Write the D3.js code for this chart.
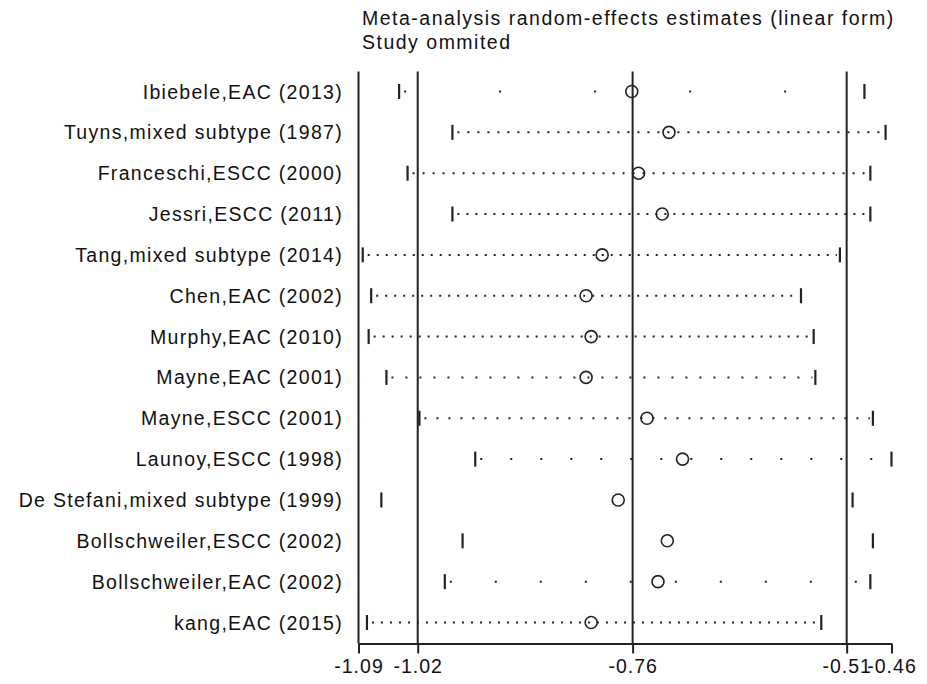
<!DOCTYPE html>
<html lang="en">
<head>
<meta charset="UTF-8">
<title>Study omitted - random-effects estimates</title>
<style>
    body { margin: 0; background: #fff; }
    svg { display: block; }
    text { font-family: Arial, "Liberation Sans", sans-serif; fill: #111; }
    .grid { stroke: #222; stroke-width: 2px; }
    .ci { fill: none; stroke: #222; stroke-width: 2px; stroke-linecap: butt; }
    .cap { stroke: #222; stroke-width: 2.2px; }
    .est { fill: none; stroke: #222; stroke-width: 1.6px; }
</style>
</head>
<body>
<script src="https://d3js.org/d3.v7.min.js"></script>
<script>
// studies in plot order
const studies = [
    "Ibiebele,EAC (2013)",
    "Tuyns,mixed subtype (1987)",
    "Franceschi,ESCC (2000)",
    "Jessri,ESCC (2011)",
    "Tang,mixed subtype (2014)",
    "Chen,EAC (2002)",
    "Murphy,EAC (2010)",
    "Mayne,EAC (2001)",
    "Mayne,ESCC (2001)",
    "Launoy,ESCC (1998)",
    "De Stefani,mixed subtype (1999)",
    "Bollschweiler,ESCC (2002)",
    "Bollschweiler,EAC (2002)",
    "kang,EAC (2015)"
];
// pooled estimate with that study left out, and its 95% limits
const estimates = [-0.767, -0.723, -0.759, -0.731, -0.802, -0.821, -0.815, -0.821, -0.749, -0.707, -0.783, -0.725, -0.736, -0.815];
const lowers    = [-1.042, -0.979, -1.032, -0.979, -1.085, -1.075, -1.078, -1.057, -1.018, -0.952, -1.063, -0.967, -0.988, -1.080];
const uppers    = [-0.492, -0.467, -0.485, -0.485, -0.521, -0.567, -0.552, -0.550, -0.482, -0.460, -0.506, -0.482, -0.485, -0.543];

// overall CI and estimate (vertical reference lines)
const overall = { lower: -1.02, est: -0.766, upper: -0.513 };
const axisMin = -1.09, axisMax = -0.46;
const tickValues = [-1.09, -1.02, -0.766, -0.513, -0.46];
const tickLabels = ["-1.09", "-1.02", "-0.76", "-0.51", "-0.46"];

// spacing of the dots along each row (0 = no dots drawn)
const dotGap = [95, 10, 10, 9, 9, 9, 9, 14, 12, 30, 0, 0, 45, 9];

const W = 927, H = 684;
const svg = d3.select("body").append("svg")
    .attr("width", W)
    .attr("height", H);

const x = d3.scaleLinear().domain([axisMin, axisMax]).range([358.5, 891.5]);
const y = d3.scalePoint().domain(studies).range([91.5, 622.5]);
const plotTop = 71.5, plotBottom = 643.5;

// title
const title = svg.append("g").style("font-size", "19.5px").style("letter-spacing", "1.5px");
title.append("text").attr("x", 362).attr("y", 25)
    .text("Meta-analysis random-effects estimates (linear form)");
title.append("text").attr("x", 362).attr("y", 49)
    .text("Study ommited");

// vertical reference lines
svg.selectAll("line.grid")
    .data([axisMin, overall.lower, overall.est, overall.upper])
    .enter().append("line")
    .attr("class", "grid")
    .attr("x1", d => x(d)).attr("x2", d => x(d))
    .attr("y1", plotTop).attr("y2", plotBottom);

// bottom axis
const axis = d3.axisBottom(x)
    .tickValues(tickValues)
    .tickFormat((d, i) => tickLabels[i])
    .tickSize(10)
    .tickSizeOuter(0);
const gx = svg.append("g")
    .attr("transform", `translate(0,${plotBottom})`)
    .call(axis);
gx.select(".domain").attr("stroke", "#222").attr("stroke-width", 2);
gx.selectAll(".tick line").attr("stroke", "#222").attr("stroke-width", 2);
gx.selectAll(".tick text")
    .attr("y", 16)
    .style("font-family", "Arial, 'Liberation Sans', sans-serif")
    .style("font-size", "19.5px")
    .style("letter-spacing", "1px")
    .attr("fill", "#111");

const rows = studies.map((s, i) => ({
    study: s, est: estimates[i], lo: lowers[i], hi: uppers[i], gap: dotGap[i]
}));

// study labels
svg.selectAll("text.study")
    .data(rows)
    .enter().append("text")
    .attr("class", "study")
    .attr("x", 343)
    .attr("y", d => y(d.study))
    .attr("dy", "0.36em")
    .attr("text-anchor", "end")
    .style("font-size", "19.5px")
    .style("letter-spacing", "1.3px")
    .text(d => d.study);

const g = svg.selectAll("g.row")
    .data(rows)
    .enter().append("g")
    .attr("class", "row")
    .attr("transform", d => `translate(0,${y(d.study)})`);

// dotted CI line
g.filter(d => d.gap > 0).append("line")
    .attr("class", "ci")
    .attr("x1", d => x(d.lo) + 5)
    .attr("x2", d => x(d.hi) - 3)
    .attr("stroke-dasharray", d => `2 ${d.gap - 2}`);

// CI end caps
g.append("line").attr("class", "cap")
    .attr("x1", d => x(d.lo)).attr("x2", d => x(d.lo))
    .attr("y1", -7.5).attr("y2", 7.5);
g.append("line").attr("class", "cap")
    .attr("x1", d => x(d.hi)).attr("x2", d => x(d.hi))
    .attr("y1", -7.5).attr("y2", 7.5);

// estimate marker
g.append("circle")
    .attr("class", "est")
    .attr("cx", d => x(d.est))
    .attr("cy", 0)
    .attr("r", 6);
</script>
</body>
</html>
